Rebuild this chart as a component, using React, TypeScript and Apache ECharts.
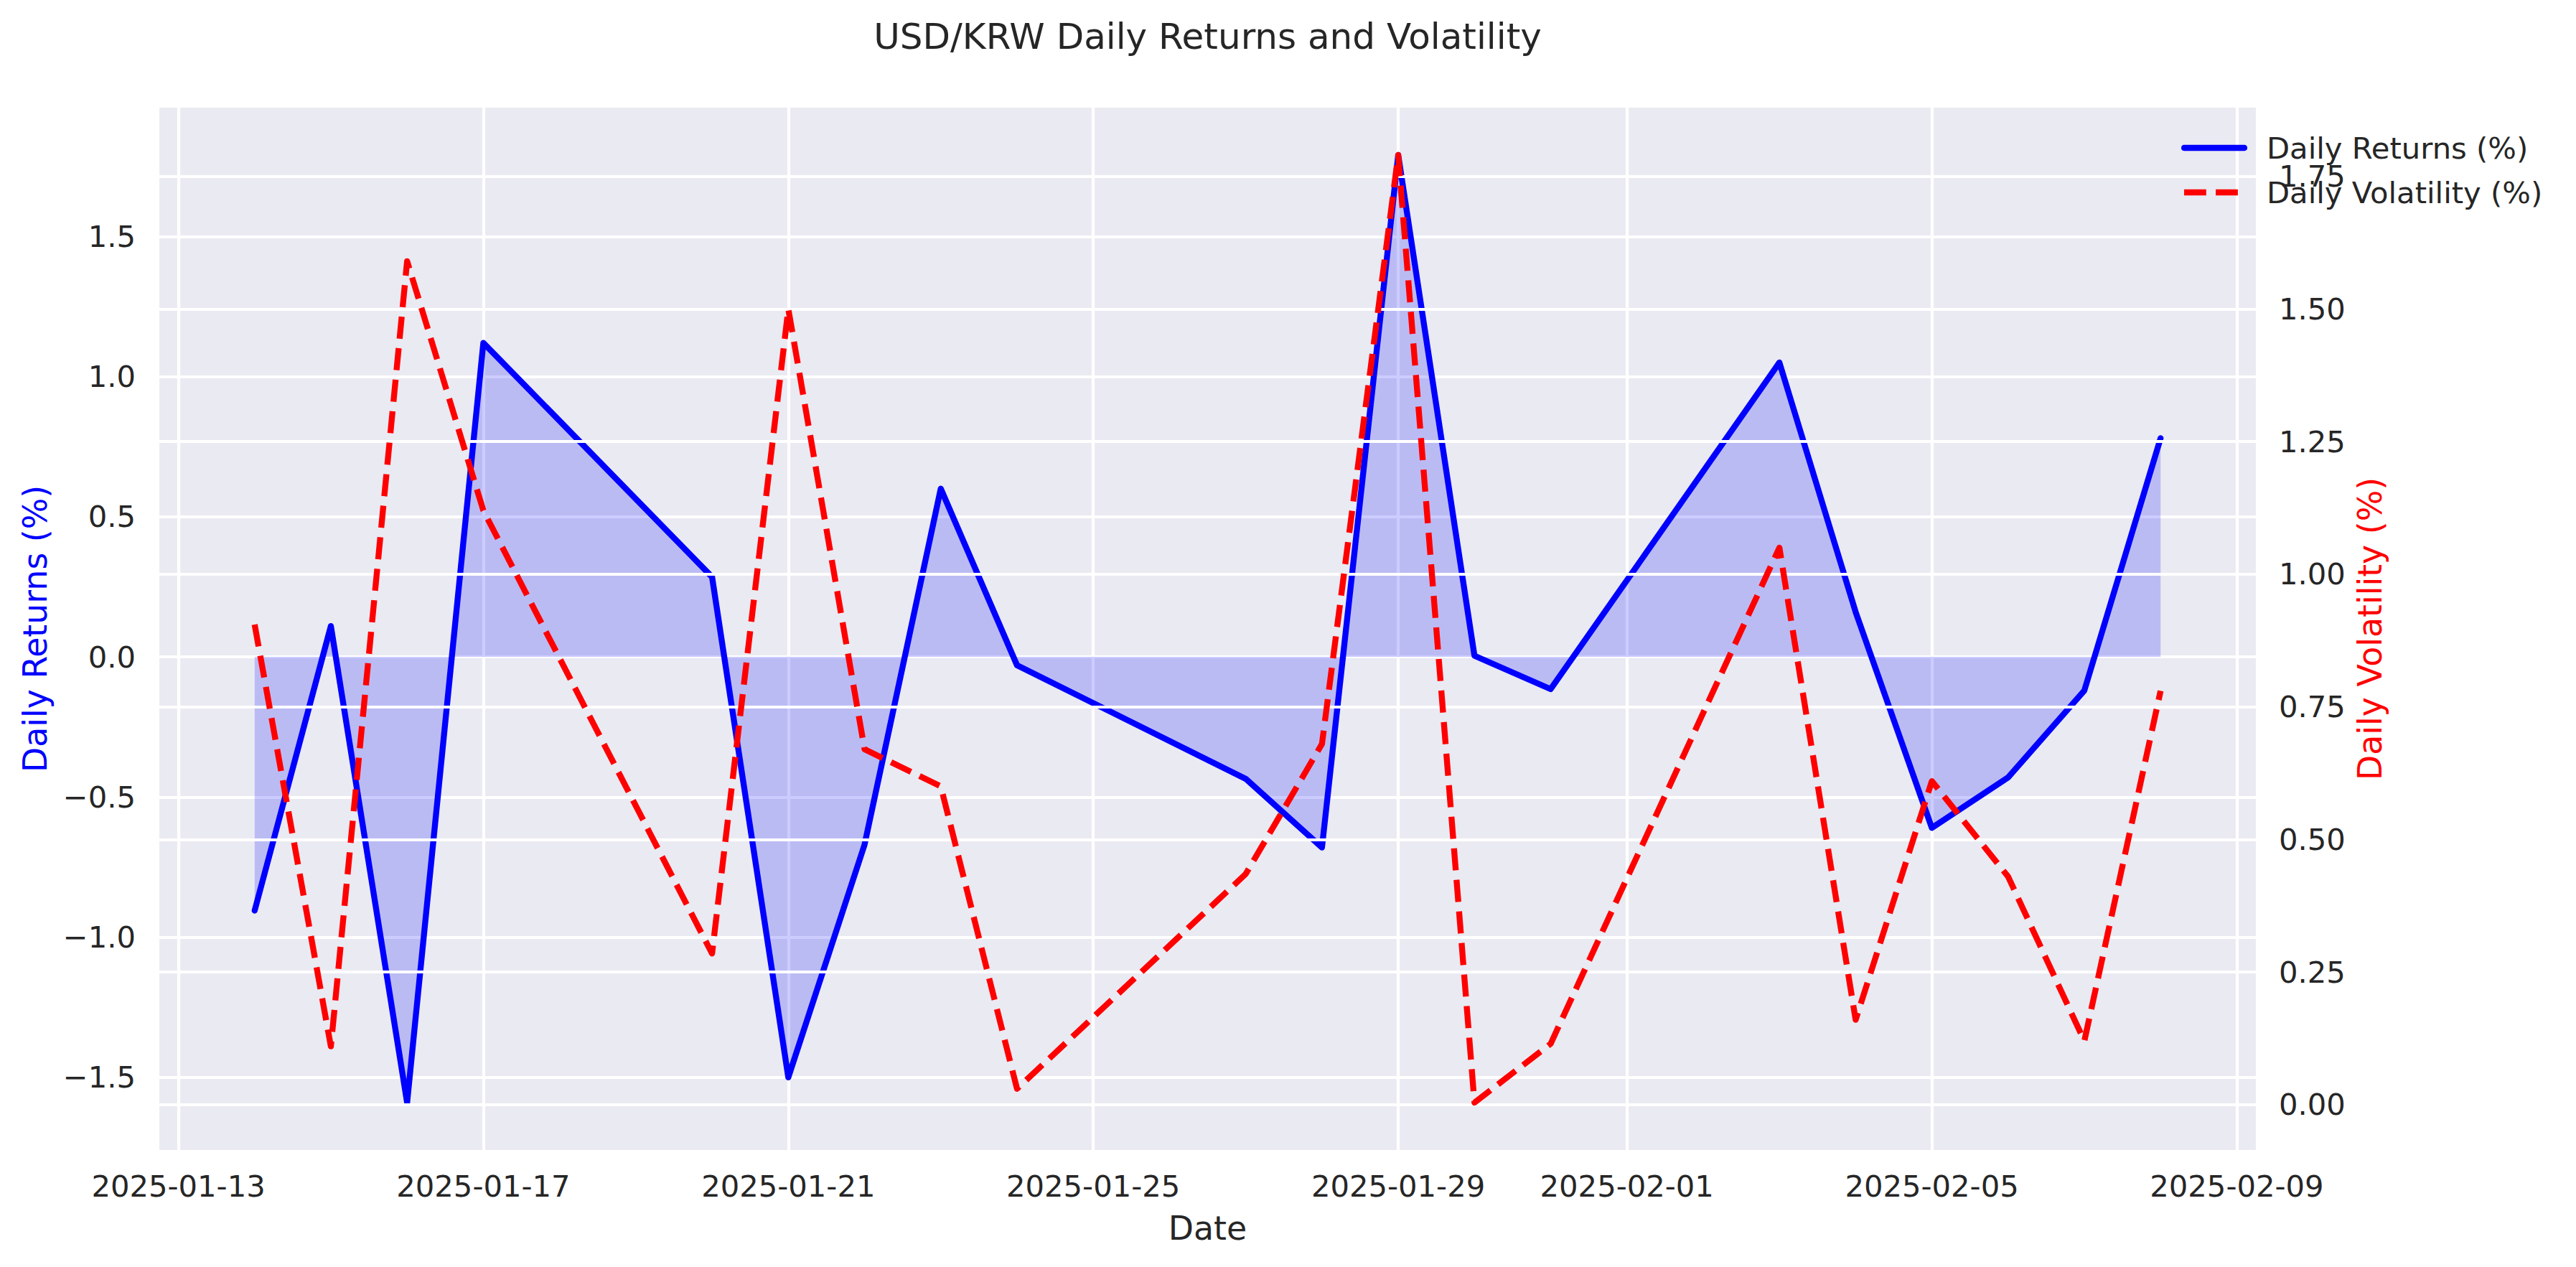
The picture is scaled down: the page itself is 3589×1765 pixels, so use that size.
import React, { useEffect, useRef } from "react";
import * as echarts from "echarts";

// ---- data ----
const dates = [
  "2025-01-14", "2025-01-15", "2025-01-16", "2025-01-17", "2025-01-20",
  "2025-01-21", "2025-01-22", "2025-01-23", "2025-01-24", "2025-01-27",
  "2025-01-28", "2025-01-29", "2025-01-30", "2025-01-31", "2025-02-03",
  "2025-02-04", "2025-02-05", "2025-02-06", "2025-02-07", "2025-02-08",
];
const dailyReturns = [
  -0.905, 0.11, -1.59, 1.12, 0.285,
  -1.5, -0.67, 0.6, -0.03, -0.435,
  -0.68, 1.79, 0.004, -0.115, 1.05,
  0.16, -0.61, -0.43, -0.12, 0.78,
];
const dailyVolatility = [
  0.905, 0.11, 1.59, 1.12, 0.285,
  1.5, 0.67, 0.6, 0.03, 0.435,
  0.68, 1.79, 0.004, 0.115, 1.05,
  0.16, 0.61, 0.43, 0.12, 0.78,
];
const xTickDates = [
  "2025-01-13", "2025-01-17", "2025-01-21", "2025-01-25",
  "2025-01-29", "2025-02-01", "2025-02-05", "2025-02-09",
];
const returnTicks = [-1.5, -1.0, -0.5, 0.0, 0.5, 1.0, 1.5];
const volatilityTicks = [0, 0.25, 0.5, 0.75, 1.0, 1.25, 1.5, 1.75];

const TITLE = "USD/KRW Daily Returns and Volatility";
const FONT = "DejaVu Sans";
const TEXT = "#262626";
const BG = "#EAEAF2";

// legend handle shapes (92 x 8.33 box)
const SOLID_ICON =
  "path://M4.17,0 L87.83,0 A4.17,4.17 0 0 1 87.83,8.33 L4.17,8.33 A4.17,4.17 0 0 1 4.17,0 Z";
const DASHED_ICON =
  "path://M0,4.16 L0,4.17 M92,4.16 L92,4.17 M4,0 L34.8,0 L34.8,8.33 L4,8.33 Z M48.1,0 L78.9,0 L78.9,8.33 L48.1,8.33 Z";

const ts = (d: string) => Date.parse(d);
const fmtMinus = (v: number, digits: number) =>
  (v < 0 ? "\u2212" : "") + Math.abs(v).toFixed(digits);

function padLimits(vals: number[]): [number, number] {
  const mn = Math.min(...vals);
  const mx = Math.max(...vals);
  const r = mx - mn;
  return [mn - 0.05 * r, mx + 0.05 * r];
}

export default function App() {
  const ref = useRef<HTMLDivElement>(null);

  useEffect(() => {
    if (!ref.current) return;
    const chart = echarts.init(ref.current, undefined, { renderer: "svg" });

    const xs = dates.map(ts);
    const [xMin, xMax] = padLimits(xs);
    const [rMin, rMax] = padLimits(dailyReturns);
    const [vMin, vMax] = padLimits(dailyVolatility);

    const gridLeft = 222;
    const gridTop = 150;
    const gridRight = 3143;
    const gridBottom = 1602;

    const tickFont = { fontFamily: FONT, fontSize: 41.7, color: TEXT };

    chart.setOption({
      animation: false,
      backgroundColor: "#ffffff",
      textStyle: { fontFamily: FONT },
      graphic: [
        {
          type: "text",
          x: (gridLeft + gridRight) / 2,
          y: 51,
          style: {
            text: TITLE,
            fontFamily: FONT,
            fontSize: 50,
            fill: TEXT,
            textAlign: "center",
            textVerticalAlign: "middle",
          },
        },
      ],
      grid: {
        left: gridLeft,
        top: gridTop,
        width: gridRight - gridLeft,
        height: gridBottom - gridTop,
        show: true,
        backgroundColor: BG,
        borderWidth: 0,
        containLabel: false,
      },
      legend: {
        orient: "vertical",
        left: 3039,
        top: 185,
        padding: 0,
        itemWidth: 92,
        itemHeight: 8.33,
        itemGap: 20,
        symbolKeepAspect: false,
        selectedMode: false,
        data: [
          { name: "Daily Returns (%)", icon: SOLID_ICON, itemStyle: { color: "#0000FF" } },
          { name: "Daily Volatility (%)", icon: DASHED_ICON, itemStyle: { color: "#FF0000" } },
        ],
        textStyle: { ...tickFont, lineHeight: 42, padding: [0, 0, 0, 22] },
      },
      xAxis: {
        type: "value",
        min: xMin,
        max: xMax,
        name: "Date",
        nameLocation: "middle",
        nameGap: 86,
        nameTextStyle: { fontFamily: FONT, fontSize: 45.8, color: TEXT },
        axisLine: { show: false },
        axisTick: { show: false, customValues: xTickDates.map(ts) },
        axisLabel: {
          ...tickFont,
          margin: 29,
          customValues: xTickDates.map(ts),
          formatter: (v: number) => new Date(v).toISOString().slice(0, 10),
        },
        splitLine: { show: true, lineStyle: { color: "#ffffff", width: 4.2 } },
      },
      yAxis: [
        {
          type: "value",
          position: "left",
          min: rMin,
          max: rMax,
          name: "Daily Returns (%)",
          nameLocation: "middle",
          nameGap: 150,
          nameTextStyle: { fontFamily: FONT, fontSize: 45.8, color: "#0000FF" },
          axisLine: { show: false },
          axisTick: { show: false, customValues: returnTicks },
          axisLabel: {
            ...tickFont,
            margin: 33,
            customValues: returnTicks,
            formatter: (v: number) => fmtMinus(v, 1),
          },
          splitLine: { show: true, lineStyle: { color: "#ffffff", width: 4.2 } },
        },
        {
          type: "value",
          position: "right",
          min: vMin,
          max: vMax,
          name: "Daily Volatility (%)",
          nameLocation: "middle",
          nameGap: 134,
          nameTextStyle: { fontFamily: FONT, fontSize: 45.8, color: "#FF0000" },
          axisLine: { show: false },
          axisTick: { show: false, customValues: volatilityTicks },
          axisLabel: {
            ...tickFont,
            margin: 32,
            customValues: volatilityTicks,
            formatter: (v: number) => fmtMinus(v, 2),
          },
          splitLine: { show: false },
        },
      ],
      series: [
        {
          name: "Daily Returns (%)",
          type: "line",
          xAxisIndex: 0,
          yAxisIndex: 0,
          data: xs.map((x, i) => [x, dailyReturns[i]]),
          symbol: "none",
          z: 2,
          lineStyle: { color: "#0000FF", width: 8.33, join: "round", cap: "round" },
          itemStyle: { color: "#0000FF" },
          areaStyle: { color: "#0000FF", opacity: 0.2, origin: 0 },
        },
        {
          name: "volatility-grid",
          type: "line",
          xAxisIndex: 0,
          yAxisIndex: 1,
          data: [],
          symbol: "none",
          z: 3,
          silent: true,
          markLine: {
            silent: true,
            z: 3,
            symbol: ["none", "none"],
            label: { show: false },
            lineStyle: { color: "#ffffff", width: 4.2, type: "solid" },
            emphasis: { disabled: true },
            data: volatilityTicks.map((v) => ({ yAxis: v })),
          },
        },
        {
          name: "Daily Volatility (%)",
          type: "line",
          xAxisIndex: 0,
          yAxisIndex: 1,
          data: xs.map((x, i) => [x, dailyVolatility[i]]),
          symbol: "none",
          z: 10,
          lineStyle: {
            color: "#FF0000",
            width: 8.33,
            type: [30.8, 13.3],
            join: "round",
            cap: "butt",
          },
          itemStyle: { color: "#FF0000" },
        },
      ],
    });

    return () => chart.dispose();
  }, []);

  return (
    <div
      ref={ref}
      style={{ position: "absolute", left: 0, top: 0, width: 3589, height: 1765 }}
    />
  );
}
